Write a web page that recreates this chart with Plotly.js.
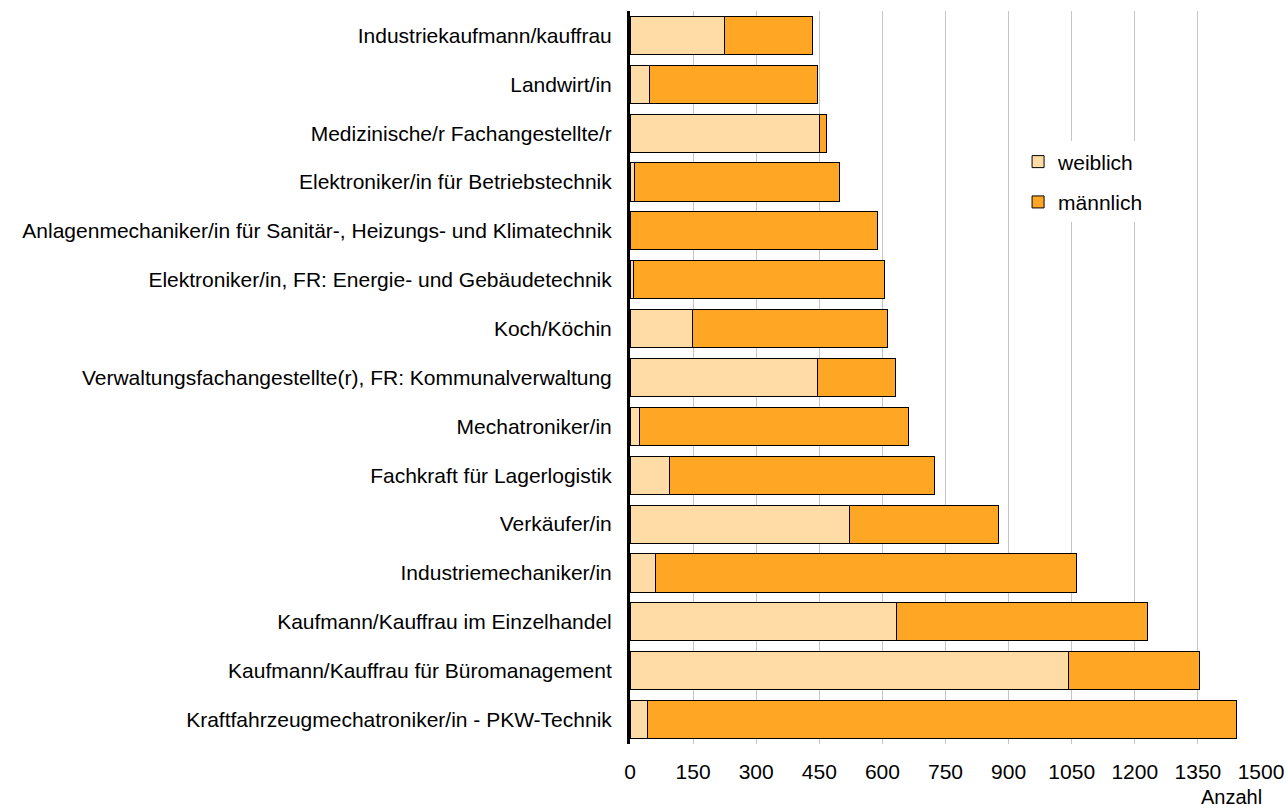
<!DOCTYPE html>
<html>
<head>
<meta charset="utf-8">
<script src="https://cdn.plot.ly/plotly-3.0.1.min.js"></script>
<style>html,body{margin:0;padding:0;background:#fff;}#chart{width:1286px;height:809px;}</style>
</head>
<body>
<div id="chart"></div>
<script>
const categories = [
  "Industriekaufmann/kauffrau",
  "Landwirt/in",
  "Medizinische/r Fachangestellte/r",
  "Elektroniker/in für Betriebstechnik",
  "Anlagenmechaniker/in für Sanitär-, Heizungs- und Klimatechnik",
  "Elektroniker/in, FR: Energie- und Gebäudetechnik",
  "Koch/Köchin",
  "Verwaltungsfachangestellte(r), FR: Kommunalverwaltung",
  "Mechatroniker/in",
  "Fachkraft für Lagerlogistik",
  "Verkäufer/in",
  "Industriemechaniker/in",
  "Kaufmann/Kauffrau im Einzelhandel",
  "Kaufmann/Kauffrau für Büromanagement",
  "Kraftfahrzeugmechatroniker/in - PKW-Technik"
];
const weiblich = [224, 47, 450, 11, 2, 8, 148, 445, 22, 93, 521, 60, 633, 1042, 41];
const maennlich = [209, 398, 18, 488, 587, 597, 465, 185, 640, 632, 355, 1002, 596, 311, 1400];
const xTicks = [0, 150, 300, 450, 600, 750, 900, 1050, 1200, 1350, 1500];

const FONT = "Liberation Sans, Arial, sans-serif";
const FS = 21;

const traces = [
  {
    type: "bar", orientation: "h", name: "weiblich",
    y: categories, x: weiblich, legendgroup: "w",
    marker: {color: "#FFDBA6", line: {color: "#000000", width: 1}},
    width: 0.78, hoverinfo: "x+y+name"
  },
  {
    type: "bar", orientation: "h", name: "männlich",
    y: categories, x: maennlich, legendgroup: "m",
    marker: {color: "#FFA724", line: {color: "#000000", width: 1}},
    width: 0.78, hoverinfo: "x+y+name"
  }
];

const layout = {
  width: 1286, height: 809,
  paper_bgcolor: "#ffffff", plot_bgcolor: "#ffffff",
  font: {family: FONT, size: FS, color: "#000000"},
  barmode: "stack",
  margin: {l: 630, r: 25, t: 11, b: 65, pad: 0},
  showlegend: true,
  legend: {
    x: 0.615, y: 0.822, xanchor: "left", yanchor: "top",
    bgcolor: "#ffffff", traceorder: "grouped", tracegroupgap: 10,
    font: {family: FONT, size: FS, color: "#000000"},
    itemwidth: 30
  },
  xaxis: {
    range: [0, 1500], tickvals: xTicks, ticktext: xTicks.map(String),
    showgrid: true, gridcolor: "#c4c4c4", gridwidth: 1,
    zeroline: false, showline: false, ticks: "",
    ticklabelstandoff: 13,
    tickfont: {family: FONT, size: FS, color: "#000000"},
    fixedrange: true
  },
  yaxis: {
    type: "category", categoryorder: "array", categoryarray: categories,
    autorange: "reversed",
    showgrid: false, zeroline: false,
    showline: true, linecolor: "#000000", linewidth: 3,
    ticks: "", ticklabelstandoff: 11,
    tickfont: {family: FONT, size: FS, color: "#000000"},
    fixedrange: true
  },
  annotations: [
    {
      text: "Anzahl", xref: "paper", yref: "paper", x: 1.0, y: 0,
      xanchor: "right", yanchor: "top", yshift: -40, xshift: 3,
      showarrow: false, font: {family: FONT, size: 20, color: "#000000"}
    }
  ]
};

Plotly.newPlot("chart", traces, layout, {displayModeBar: false, staticPlot: true});
</script>
</body>
</html>
